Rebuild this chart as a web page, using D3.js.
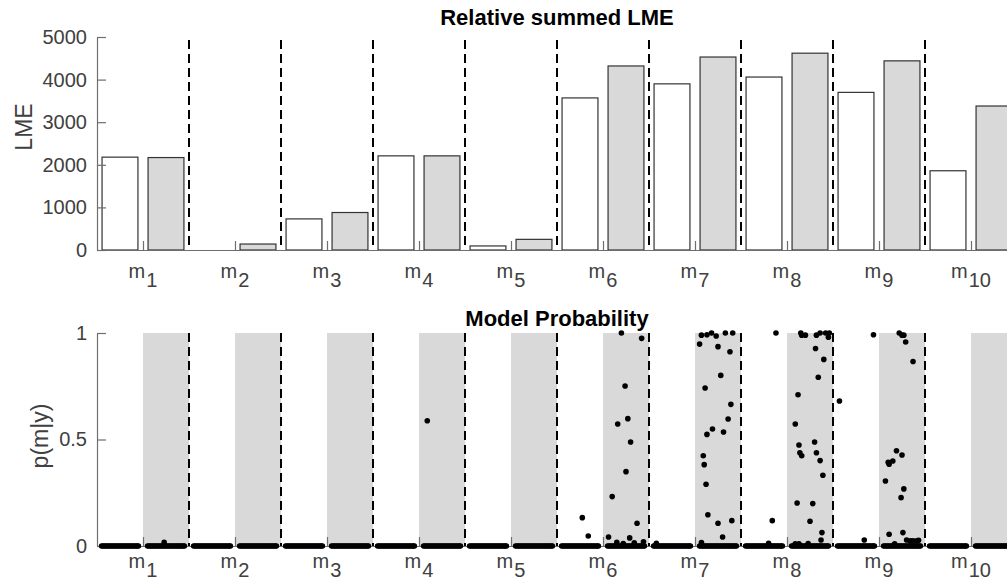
<!DOCTYPE html>
<html>
<head>
<meta charset="utf-8">
<script src="https://cdn.jsdelivr.net/npm/d3@7"></script>
<style>
  body { margin: 0; background: #fff; }
  text { font-family: "Liberation Sans", Arial, sans-serif; }
</style>
</head>
<body>
<script>
var w = 1007;
var h = 588;

// models m1..m10
var models = [1, 2, 3, 4, 5, 6, 7, 8, 9, 10];

// summed LME, first condition (white) and second condition (grey)
var lmeWhite = [2180, 0, 730, 2210, 95, 3570, 3900, 4060, 3700, 1860];
var lmeGrey  = [2170, 140, 880, 2210, 250, 4320, 4530, 4620, 4440, 3380];

var lmeTicks = [0, 1000, 2000, 3000, 4000, 5000];
var probTicks = [0, 0.5, 1];

// jitter offsets of the subjects that sit at p = 0 (same for each half)
var zeroJitter = [-0.2, -0.185, -0.17, -0.155, -0.14, -0.125, -0.11, -0.095, -0.08, -0.065,
                  -0.05, -0.035, -0.02, -0.005, 0.01, 0.025, 0.04, 0.055, 0.07, 0.085,
                  0.1, 0.115, 0.13, 0.145, 0.16, 0.175, 0.19, 0.2];

// non-zero model probabilities: model, condition (0 white, 1 grey), jitter, p
var probModel = [1, 4,
  6, 6, 6, 6, 6, 6, 6, 6, 6, 6, 6, 6, 6, 6, 6, 6, 6,
  7, 7, 7, 7, 7, 7, 7, 7, 7, 7, 7, 7, 7, 7, 7, 7, 7, 7, 7, 7, 7, 7, 7, 7, 7,
  8, 8, 8, 8, 8, 8, 8, 8, 8, 8, 8, 8, 8, 8, 8, 8, 8, 8, 8, 8, 8, 8, 8, 8, 8, 8, 8, 8, 8, 8, 8,
  9, 9, 9, 9, 9, 9, 9, 9, 9, 9, 9, 9, 9, 9, 9, 9, 9, 9, 9, 9, 9, 9, 9, 9];
var probCond = [1, 1,
  0, 0, 1, 1, 1, 1, 1, 1, 1, 1, 1, 1, 1, 1, 1, 1, 1,
  0, 1, 1, 1, 1, 1, 1, 1, 1, 1, 1, 1, 1, 1, 1, 1, 1, 1, 1, 1, 1, 1, 1, 1, 1,
  0, 0, 0, 1, 1, 1, 1, 1, 1, 1, 1, 1, 1, 1, 1, 1, 1, 1, 1, 1, 1, 1, 1, 1, 1, 1, 1, 1, 1, 1, 1,
  0, 0, 0, 1, 1, 1, 1, 1, 1, 1, 1, 1, 1, 1, 1, 1, 1, 1, 1, 1, 1, 1, 1, 1];
var probJitter = [-0.02, -0.16,
  0.025, 0.09, -0.19, -0.15, -0.05, 0.17, -0.01, 0.02, -0.09, 0.05, 0.0, 0.12, 0.04, -0.10, -0.03, 0.09, 0.19,
  -0.17, -0.2, -0.18, -0.12, -0.07, -0.02, 0.08, 0.16, 0.0, 0.13, 0.03, -0.14, 0.14, 0.11, -0.06, -0.12, 0.06, -0.16, -0.15, -0.13, -0.11, 0.0, 0.15, 0.05, -0.18,
  0.13, 0.09, 0.05, -0.10, -0.05, -0.09, 0.07, 0.11, 0.17, 0.21, 0.2, 0.06, 0.15, 0.09, -0.13, -0.16, -0.12, 0.05, -0.11, -0.09, 0.07, 0.11, 0.14, -0.14, 0.03, 0.0, 0.13, 0.12, -0.16, -0.12, -0.02,
  -0.18, 0.19, 0.09, -0.03, 0.0, 0.02, 0.04, 0.12, -0.06, 0.0, -0.1, -0.15, -0.14, -0.18, 0.02, -0.01, -0.14, 0.01, 0.05, 0.09, 0.12, 0.16, 0.18, -0.08];
var probValue = [0.017, 0.588,
  0.133, 0.047, 0.042, 0.232, 1.0, 0.975, 0.751, 0.598, 0.573, 0.488, 0.349, 0.107, 0.038, 0.017, 0.012, 0.015, 0.02,
  0.013, 0.948, 0.99, 0.992, 1.0, 0.986, 1.0, 1.0, 0.936, 0.912, 0.801, 0.742, 0.665, 0.596, 0.549, 0.524, 0.535, 0.424, 0.382, 0.29, 0.147, 0.107, 0.119, 0.042, 0.016,
  1.0, 0.119, 0.013, 1.0, 0.99, 0.99, 0.99, 1.0, 1.0, 1.0, 0.98, 0.927, 0.876, 0.792, 0.71, 0.573, 0.474, 0.488, 0.438, 0.424, 0.438, 0.401, 0.332, 0.202, 0.199, 0.116, 0.063, 0.028, 0.01, 0.01, 0.012,
  0.681, 0.992, 0.028, 1.0, 0.99, 0.99, 0.958, 0.866, 0.447, 0.427, 0.399, 0.393, 0.384, 0.305, 0.268, 0.227, 0.055, 0.063, 0.028, 0.024, 0.024, 0.024, 0.027, 0.01];

var axisColor = "#6e6e6e";
var textColor = "#404040";
var greyFill = "#d9d9d9";
var barWidth = 0.39;
var halfOffset = 0.25;

var svg = d3.select("body")
            .append("svg")
            .attr("width", w)
            .attr("height", h);

// shared x scale: each model occupies one unit
var xScale = d3.scaleLinear()
               .domain([0.5, 10.5])
               .range([97, 1017]);

var yTop = d3.scaleLinear().domain([0, 5000]).range([250, 37]);
var yBot = d3.scaleLinear().domain([0, 1]).range([546, 333]);

function styleAxis(g) {
    g.selectAll("path, line").attr("stroke", axisColor).attr("stroke-width", 1.2);
    g.selectAll("text")
     .attr("fill", textColor)
     .attr("font-size", "20px")
     .attr("font-family", "Liberation Sans, Arial, sans-serif");
}

function xLabels(baseY) {
    var lab = svg.append("g")
       .selectAll("text")
       .data(models)
       .enter()
       .append("text")
       .attr("x", function(d) { return xScale(d); })
       .attr("y", baseY)
       .attr("text-anchor", "middle")
       .attr("font-size", "20px")
       .attr("fill", textColor);
    lab.append("tspan").text("m");
    lab.append("tspan")
       .attr("dy", 9)
       .attr("dx", 1)
       .text(function(d) { return d; });
}

function dashedLines(y0, y1) {
    svg.append("g")
       .selectAll("line")
       .data(models.slice(0, 9))
       .enter()
       .append("line")
       .attr("x1", function(d) { return xScale(d + 0.5); })
       .attr("x2", function(d) { return xScale(d + 0.5); })
       .attr("y1", y0)
       .attr("y2", y1)
       .attr("stroke", "#000")
       .attr("stroke-width", 2)
       .attr("stroke-dasharray", "9,5");
}

// ---------- top panel: relative summed LME ----------
svg.append("g")
   .selectAll("rect")
   .data(lmeWhite)
   .enter()
   .append("rect")
   .attr("x", function(d, i) { return xScale(models[i] - halfOffset - barWidth / 2); })
   .attr("width", xScale(barWidth) - xScale(0))
   .attr("y", function(d) { return yTop(d); })
   .attr("height", function(d) { return yTop(0) - yTop(d); })
   .attr("fill", "#fff")
   .attr("stroke", "#333")
   .attr("stroke-width", 1.2);

svg.append("g")
   .selectAll("rect")
   .data(lmeGrey)
   .enter()
   .append("rect")
   .attr("x", function(d, i) { return xScale(models[i] + halfOffset - barWidth / 2); })
   .attr("width", xScale(barWidth) - xScale(0))
   .attr("y", function(d) { return yTop(d); })
   .attr("height", function(d) { return yTop(0) - yTop(d); })
   .attr("fill", greyFill)
   .attr("stroke", "#333")
   .attr("stroke-width", 1.2);

dashedLines(40, 250);

svg.append("g")
   .attr("transform", "translate(97,0)")
   .call(d3.axisLeft(yTop).tickValues(lmeTicks).tickFormat(d3.format("d")).tickSizeInner(-9).tickSizeOuter(0).tickPadding(10))
   .call(styleAxis);

svg.append("g")
   .attr("transform", "translate(0,250)")
   .call(d3.axisBottom(xScale).tickValues(models).tickFormat("").tickSizeInner(-9).tickSizeOuter(0))
   .call(styleAxis);

xLabels(278);

svg.append("text")
   .attr("x", 557)
   .attr("y", 25)
   .attr("text-anchor", "middle")
   .attr("font-size", "22px")
   .attr("font-weight", "bold")
   .attr("fill", "#000")
   .text("Relative summed LME");

svg.append("text")
   .attr("transform", "translate(32,127) rotate(-90)")
   .attr("text-anchor", "middle")
   .attr("font-size", "23px")
   .attr("fill", textColor)
   .text("LME");

// ---------- bottom panel: model probability ----------
svg.append("g")
   .selectAll("rect")
   .data(models)
   .enter()
   .append("rect")
   .attr("x", function(d) { return xScale(d); })
   .attr("width", xScale(0.5) - xScale(0))
   .attr("y", yBot(1))
   .attr("height", yBot(0) - yBot(1))
   .attr("fill", greyFill);

dashedLines(333, 546);

svg.append("g")
   .attr("transform", "translate(97,0)")
   .call(d3.axisLeft(yBot).tickValues(probTicks).tickFormat(d3.format("")).tickSizeInner(-9).tickSizeOuter(0).tickPadding(10))
   .call(styleAxis);

svg.append("g")
   .attr("transform", "translate(0,546)")
   .call(d3.axisBottom(xScale).tickValues(models).tickFormat("").tickSizeInner(-9).tickSizeOuter(0))
   .call(styleAxis);

// subjects at zero
var zeroPts = [];
models.forEach(function(m) {
    [0, 1].forEach(function(c) {
        zeroJitter.forEach(function(j) {
            zeroPts.push({ m: m, c: c, j: j, p: 0 });
        });
    });
});

var pts = probModel.map(function(m, i) {
    return { m: m, c: probCond[i], j: probJitter[i], p: probValue[i] };
});

function ptX(d) {
    return xScale(d.m + (d.c === 0 ? -halfOffset : halfOffset) + d.j);
}

svg.append("g")
   .selectAll("circle")
   .data(zeroPts.concat(pts))
   .enter()
   .append("circle")
   .attr("cx", ptX)
   .attr("cy", function(d) { return yBot(d.p); })
   .attr("r", 2.8)
   .attr("fill", "#000");

xLabels(568);

svg.append("text")
   .attr("x", 557)
   .attr("y", 326)
   .attr("text-anchor", "middle")
   .attr("font-size", "22px")
   .attr("font-weight", "bold")
   .attr("fill", "#000")
   .text("Model Probability");

svg.append("text")
   .attr("transform", "translate(48,436) rotate(-90)")
   .attr("text-anchor", "middle")
   .attr("font-size", "23px")
   .attr("fill", textColor)
   .text("p(m|y)");
</script>
</body>
</html>
